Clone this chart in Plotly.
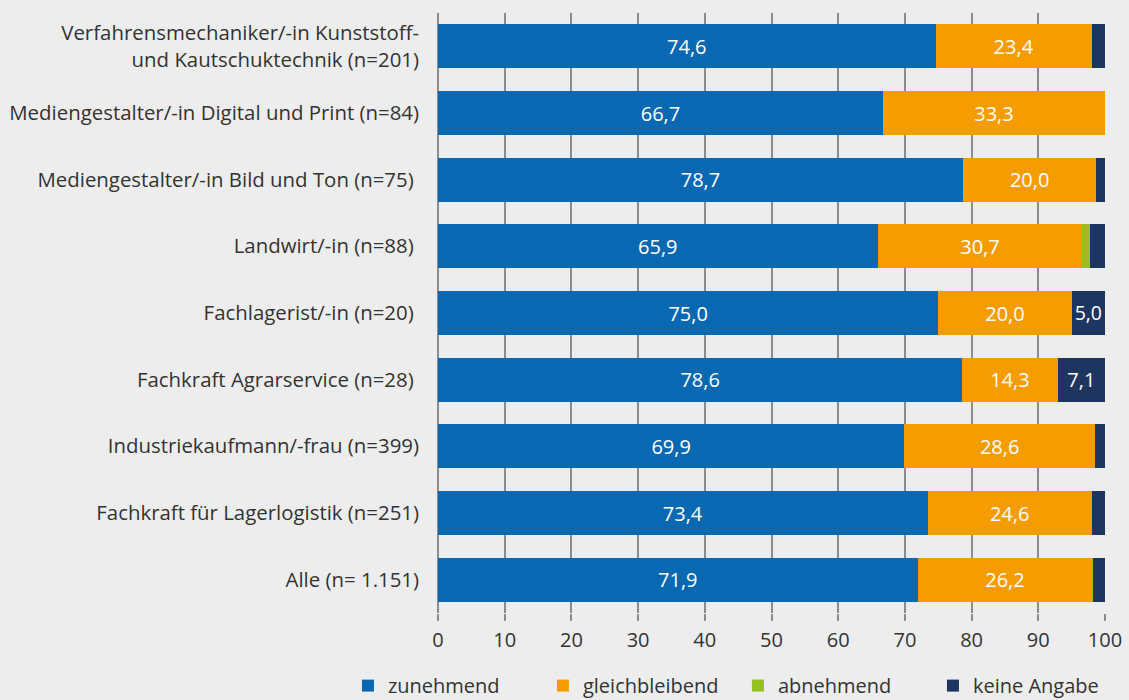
import plotly.graph_objects as go

categories = [
    "Verfahrensmechaniker/-in Kunststoff-<br>und Kautschuktechnik (n=201)",
    "Mediengestalter/-in Digital und Print (n=84)",
    "Mediengestalter/-in Bild und Ton (n=75)\u00a0",
    "Landwirt/-in (n=88)\u00a0",
    "Fachlagerist/-in (n=20)\u00a0",
    "Fachkraft Agrarservice (n=28)\u00a0",
    "Industriekaufmann/-frau (n=399)",
    "Fachkraft für Lagerlogistik (n=251)",
    "Alle (n= 1.151)",
]
zunehmend = [74.6, 66.7, 78.7, 65.9, 75.0, 78.6, 69.9, 73.4, 71.9]
gleichbleibend = [23.4, 33.3, 20.0, 30.7, 20.0, 14.3, 28.6, 24.6, 26.2]
abnehmend = [0.0, 0.0, 0.0, 1.1, 0.0, 0.0, 0.0, 0.0, 0.1]
keine_angabe = [2.0, 0.0, 1.3, 2.3, 5.0, 7.1, 1.5, 2.0, 1.8]
x_ticks = [0, 10, 20, 30, 40, 50, 60, 70, 80, 90, 100]

series = [
    ("zunehmend", zunehmend, "#0868b1"),
    ("gleichbleibend", gleichbleibend, "#f59c00"),
    ("abnehmend", abnehmend, "#95c11f"),
    ("keine Angabe", keine_angabe, "#1d3660"),
]

def fmt(v):
    return f"{v:.1f}".replace(".", ",") if v >= 5 else ""

fig = go.Figure()
for name, vals, color in series:
    fig.add_trace(go.Bar(
        y=categories, x=vals, name=name, orientation="h",
        marker=dict(color=color, line=dict(width=0)),
        text=[fmt(v) for v in vals], textposition="inside",
        insidetextanchor="middle", textangle=0,
        textfont=dict(color="white", size=20, family="Open Sans"),
        hoverinfo="skip",
    ))

fig.update_layout(
    barmode="stack", bargap=0.34,
    width=1129, height=700,
    paper_bgcolor="#ededed", plot_bgcolor="#ededed",
    margin=dict(l=438, r=24, t=13, b=87, autoexpand=False),
    font=dict(family="Open Sans", color="#333333", size=20),
    showlegend=True,
    legend=dict(
        orientation="h", x=-0.135, xanchor="left", y=-0.121, yanchor="middle",
        font=dict(size=20, color="#333333"), entrywidth=150, traceorder="normal",
        bgcolor="rgba(0,0,0,0)",
    ),
    xaxis=dict(
        range=[0, 100], tickvals=x_ticks, showgrid=True, gridcolor="#8c8c8c", gridwidth=2,
        zeroline=True, zerolinecolor="#8c8c8c", zerolinewidth=2,
        ticks="outside", ticklen=7, tickcolor="#8c8c8c", tickwidth=2,
        ticklabelstandoff=2,
        tickfont=dict(size=20, family="Open Sans", color="#333333"),
        fixedrange=True,
    ),
    yaxis=dict(
        autorange="reversed", showgrid=False, zeroline=False, showline=False,
        ticks="", ticklabelstandoff=18,
        tickfont=dict(size=20.4, family="Open Sans", color="#333333"),
        fixedrange=True,
    ),
)

fig.write_html(
    "out.html",
    config={"displayModeBar": False},
    post_script="document.body.style.margin='0';document.body.style.background='#ededed';",
)
